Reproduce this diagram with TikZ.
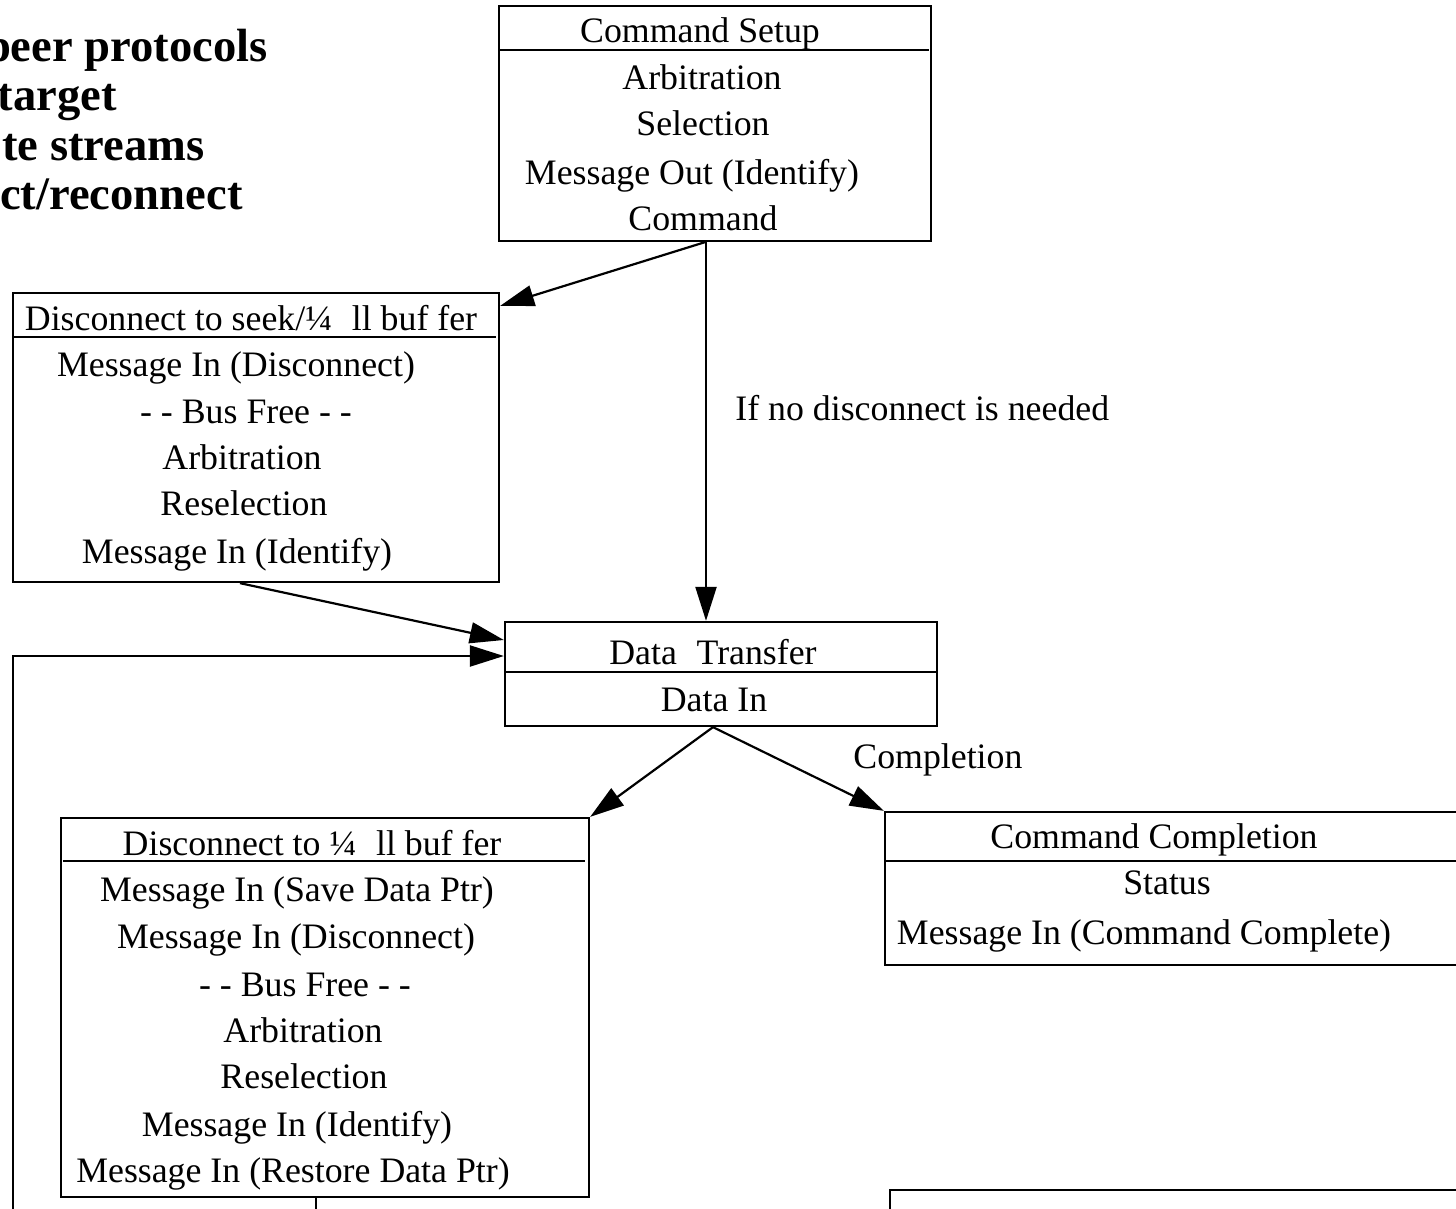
\documentclass[tikz,border=0pt]{standalone}
\usepackage{fontspec}
\setmainfont{Liberation Serif}
\usetikzlibrary{arrows.meta,fit}
\begin{document}
\begin{tikzpicture}[x=0.5pt,y=-0.5pt,
  frame/.style={draw,line width=1.15pt,inner sep=0pt,fit=#1},
  row/.style={anchor=base,inner sep=0pt,font=\fontsize{17.9}{20}\selectfont},
  headline/.style={anchor=base east,inner sep=0pt,font=\bfseries\fontsize{23.3}{26}\selectfont},
  link/.style={line width=1.1pt,-{Triangle[length=17pt,width=10.5pt]}},
  rule/.style={line width=1.15pt}]

\useasboundingbox (0,0) rectangle (1456,1209);
\clip (0,0) rectangle (1456,1209);

% heading lines at the top left
\node[headline] (t1) at (268,62)  {peer protocols};
\node[headline] (t2) at (117,111) {target};
\node[headline] (t3) at (205,161) {te streams};
\node[headline] (t4) at (243,210) {ct/reconnect};

% Command Setup
\coordinate (s-nw) at (499,6);  \coordinate (s-se) at (931,241);
\node[frame={(s-nw)(s-se)}] (setup) {};
\draw[rule] (499,50) -- (929,50);
\node[row] (s0) at (700,43)  {Command Setup};
\node[row] (s1) at (702,90)  {Arbitration};
\node[row] (s2) at (703,136) {Selection};
\node[row] (s3) at (692,185) {Message Out (Identify)};
\node[row] (s4) at (703,231) {Command};

% Disconnect to seek
\coordinate (k-nw) at (13,293);  \coordinate (k-se) at (499,582);
\node[frame={(k-nw)(k-se)}] (seek) {};
\draw[rule] (13,337) -- (496,337);
\node[row] (k0) at (251,330) {Disconnect to seek/¼\hspace{0.55em}ll buf fer};
\node[row] (k1) at (236,376) {Message In (Disconnect)};
\node[row] (k2) at (246,423) {- - Bus Free - -};
\node[row] (k3) at (242,469) {Arbitration};
\node[row] (k4) at (244,515) {Reselection};
\node[row] (k5) at (237,563) {Message In (Identify)};

% Data Transfer
\coordinate (d-nw) at (505,622);  \coordinate (d-se) at (937,726);
\node[frame={(d-nw)(d-se)}] (data) {};
\draw[rule] (505,672) -- (937,672);
\node[row] (d0) at (713,664) {Data\hspace{0.55em}Transfer};
\node[row] (d1) at (714,711) {Data In};

% Disconnect to fill buffer
\coordinate (f-nw) at (61,818);  \coordinate (f-se) at (589,1197);
\node[frame={(f-nw)(f-se)}] (disc) {};
\draw[rule] (63,861) -- (585,861);
\node[row] (f0) at (312,855)  {Disconnect to ¼\hspace{0.55em}ll buf fer};
\node[row] (f1) at (297,901)  {Message In (Save Data Ptr)};
\node[row] (f2) at (296,948)  {Message In (Disconnect)};
\node[row] (f3) at (305,996)  {- - Bus Free - -};
\node[row] (f4) at (303,1042) {Arbitration};
\node[row] (f5) at (304,1088) {Reselection};
\node[row] (f6) at (297,1136) {Message In (Identify)};
\node[row] (f7) at (293,1182) {Message In (Restore Data Ptr)};

% Command Completion
\coordinate (c-nw) at (885,812);  \coordinate (c-se) at (1490,965);
\node[frame={(c-nw)(c-se)}] (compl) {};
\draw[rule] (885,861) -- (1490,861);
\node[row] (c0) at (1154,848) {Command Completion};
\node[row] (c1) at (1167,894) {Status};
\node[row] (c2) at (1144,944) {Message In (Command Complete)};

% box running off the lower right edge
\coordinate (b-nw) at (890,1190);  \coordinate (b-se) at (1490,1260);
\node[frame={(b-nw)(b-se)}] (next) {};

% connectors
\draw[link] ([xshift=-5pt]setup.south) -- ([yshift=-7pt]seek.north east);
\draw[link] ([xshift=-4.5pt]setup.south) -- ([xshift=-4.5pt]setup.south |- data.north);
\node[row,anchor=base west] (nodisc) at (735,420) {If no disconnect is needed};
\draw[link] ([xshift=-8pt]seek.south) -- ([yshift=17pt]data.west);
\coordinate (loopstart) at (13,1215);
\draw[link] (loopstart) |- ([yshift=9pt]data.west);
\draw[link] ([xshift=-4pt]data.south) -- (disc.north east);
\draw[link] ([xshift=-4pt]data.south) -- (compl.north west);
\node[row,anchor=base west] (done) at (853,768) {Completion};
\coordinate (tail) at (316,1215);
\draw[rule] (tail |- disc.south) -- (tail);
\end{tikzpicture}
\end{document}
